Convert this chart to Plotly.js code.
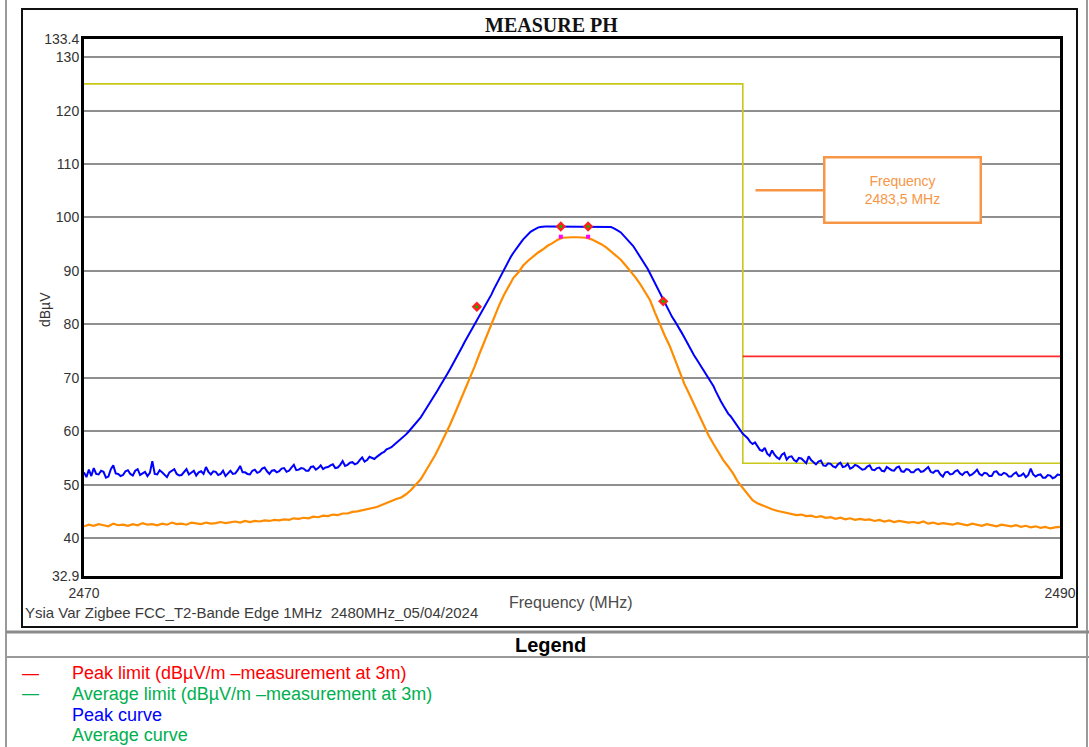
<!DOCTYPE html>
<html>
<head>
<meta charset="utf-8">
<script src="https://cdn.plot.ly/plotly-3.0.1.min.js"></script>
<style>
html,body{margin:0;padding:0;background:#fff;}
#chart{width:1089px;height:747px;}
</style>
</head>
<body>
<div id="chart"></div>
<script>
// ---------- DATA ----------
const peakFreqStart = 2470.0;
const peakFreqStep = 0.05; // MHz sampling of the peak trace
const avgFreqStart = 2470.0;
const avgFreqStep = 0.1;   // MHz sampling of the average trace

const peakCurve = [
  52.3, 51.4, 52.8, 51.6, 53.1, 52.0, 51.9, 52.6, 52.4, 51.3, 51.5, 52.9, 53.6, 52.1, 52.0, 51.6, 51.8, 52.5, 52.7, 52.0,
  51.7, 52.6, 52.9, 51.8, 52.1, 52.4, 51.6, 52.2, 54.4, 52.0, 51.9, 52.7, 52.3, 51.8, 51.4, 52.3, 52.6, 52.9, 52.0, 51.7,
  51.8, 52.4, 52.9, 51.9, 52.2, 52.6, 51.7, 52.3, 52.5, 52.0, 53.3, 52.4, 51.9, 52.5, 52.4, 51.8, 52.0, 52.6, 51.6, 52.2,
  52.6, 52.0, 52.1, 52.7, 53.5, 52.3, 52.3, 52.0, 51.9, 52.6, 52.8, 52.2, 52.4, 53.0, 53.2, 52.5, 52.0, 52.6, 52.7, 52.3,
  52.5, 53.0, 53.1, 52.4, 52.6, 53.2, 53.7, 52.7, 52.8, 53.1, 53.0, 52.6, 52.6, 53.3, 53.4, 52.8, 53.1, 53.6, 52.9, 53.2,
  53.3, 53.6, 53.8, 53.1, 53.2, 53.7, 54.4, 53.5, 53.7, 54.1, 54.2, 53.8, 54.0, 54.6, 55.1, 54.3, 54.6, 55.2, 55.0, 54.8,
  55.2, 55.6, 55.9, 56.1, 56.6, 56.8, 57.0, 57.4, 57.8, 58.2, 58.5, 58.9, 59.4, 59.9, 60.4, 60.9, 61.4, 62.0, 62.6, 63.3,
  64.0, 64.7, 65.4, 66.1, 66.9, 67.7, 68.5, 69.2, 70.0, 70.8, 71.6, 72.4, 73.3, 74.1, 75.0, 75.8, 76.7, 77.5, 78.4, 79.2,
  80.0, 80.8, 81.6, 82.3, 83.0, 83.8, 84.6, 85.6, 86.6, 87.5, 88.5, 89.4, 90.3, 91.2, 92.0, 92.7, 93.4, 94.1, 94.7, 95.3,
  95.9, 96.4, 96.9, 97.3, 97.6, 97.9, 98.1, 98.2, 98.3, 98.3, 98.3, 98.3, 98.3, 98.3, 98.3, 98.3, 98.3, 98.3, 98.3, 98.3,
  98.3, 98.3, 98.3, 98.3, 98.3, 98.3, 98.3, 98.3, 98.3, 98.3, 98.3, 98.3, 98.3, 98.3, 98.3, 98.3, 98.2, 98.0, 97.8, 97.5,
  97.2, 96.7, 96.2, 95.8, 95.3, 94.7, 94.0, 93.3, 92.6, 91.9, 91.2, 90.4, 89.5, 88.6, 87.6, 86.6, 85.6, 84.7, 83.8, 83.0,
  82.2, 81.4, 80.7, 80.0, 79.3, 78.4, 77.6, 76.7, 75.9, 75.0, 74.2, 73.5, 72.8, 72.1, 71.4, 70.7, 70.0, 69.2, 68.4, 67.4,
  66.4, 65.6, 64.8, 64.0, 63.3, 62.8, 62.1, 61.4, 60.9, 60.1, 59.5, 59.1, 58.7, 58.0, 57.6, 57.9, 57.1, 56.5, 56.3, 56.9,
  55.8, 55.4, 56.4, 55.6, 55.1, 54.8, 55.6, 55.9, 54.7, 55.2, 55.3, 54.6, 54.3, 55.0, 54.9, 54.4, 54.0, 55.3, 54.6, 54.2,
  53.8, 54.3, 54.5, 53.6, 53.5, 54.0, 53.9, 53.4, 53.2, 53.8, 54.1, 53.3, 53.4, 53.9, 53.0, 53.2, 53.7, 53.5, 53.1, 52.8,
  52.9, 53.4, 53.6, 52.8, 52.7, 53.1, 53.2, 52.6, 52.5, 53.3, 53.0, 52.7, 52.6, 53.2, 53.4, 52.5, 52.4, 52.9, 52.8, 52.3,
  52.3, 52.8, 52.9, 52.4, 52.5, 52.9, 53.3, 52.4, 52.2, 52.6, 52.6, 51.9, 51.5, 52.3, 52.4, 51.9, 52.0, 52.5, 52.7, 52.1,
  51.8, 52.3, 52.4, 51.7, 51.9, 52.3, 52.8, 52.0, 51.7, 52.2, 52.1, 51.6, 51.6, 52.4, 52.5, 51.9, 51.8, 52.2, 52.0, 51.5,
  51.5, 52.0, 52.3, 51.6, 51.7, 52.1, 51.4, 51.8, 53.0, 51.9, 51.5, 51.8, 51.9, 51.3, 51.3, 51.8, 51.7, 51.2, 51.4, 51.9,
  51.8
];

const averageCurve = [
  42.2, 42.5, 42.3, 42.6, 42.4, 42.2, 42.7, 42.4, 42.5, 42.3,
  42.6, 42.4, 42.8, 42.5, 42.6, 42.4, 42.7, 42.5, 42.9, 42.6,
  42.7, 42.5, 42.9, 42.7, 42.6, 42.9, 42.7, 42.8, 43.0, 42.8,
  42.9, 43.1, 42.9, 43.2, 43.0, 43.2, 43.1, 43.3, 43.2, 43.4,
  43.3, 43.5, 43.4, 43.7, 43.6, 43.8, 43.7, 44.0, 43.9, 44.2,
  44.1, 44.4, 44.3, 44.6, 44.6, 44.9, 45.0, 45.2, 45.3, 45.5,
  45.8, 46.2, 46.6, 47.0, 47.3, 47.6, 48.2, 49.0, 50.0, 51.0,
  52.5, 54.0, 55.6, 57.4, 59.2, 61.2, 63.3, 65.4, 67.6, 69.8,
  72.0, 74.4, 76.7, 79.0, 81.3, 83.4, 85.4, 87.2, 88.7, 89.7,
  91.0, 91.9, 92.7, 93.4, 94.0, 94.7, 95.2, 95.8, 96.2, 96.3,
  96.3, 96.3, 96.3, 96.2, 95.9, 95.5, 95.0, 94.4, 93.6, 92.9,
  92.1, 91.0, 90.0, 88.8, 87.5, 86.1, 84.5, 82.2, 80.0, 77.9,
  76.0, 73.5, 71.1, 68.9, 67.0, 65.0, 63.0, 61.0, 59.2, 57.6,
  56.1, 54.6, 53.4, 52.1, 50.5, 49.3, 48.1, 47.1, 46.5, 46.1,
  45.8, 45.4, 45.1, 44.9, 44.7, 44.6, 44.3, 44.4, 44.1, 44.2,
  43.9, 44.1, 43.8, 43.9, 43.6, 43.8, 43.5, 43.7, 43.4, 43.6,
  43.4, 43.5, 43.2, 43.4, 43.1, 43.3, 43.0, 43.2, 43.1, 42.9,
  43.0, 42.8, 43.1, 42.7, 42.9, 42.6, 42.8, 42.7, 42.5, 42.8,
  42.6, 42.4, 42.7, 42.5, 42.3, 42.6, 42.4, 42.2, 42.5, 42.3,
  42.2, 42.4, 42.1, 42.3, 42.0, 42.2, 41.9, 42.1, 41.8, 42.0,
  42.1
];

const limitFreq = [2470, 2483.5, 2483.5, 2490];
const limitLevel = [125, 125, 54, 54];
const peakLimitFreq = [2483.5, 2490];
const peakLimitLevel = [74, 74];

const markerFreq = [2478.05, 2479.77, 2480.33, 2481.87];
const markerLevel = [83.3, 98.3, 98.3, 84.3];
const avgMarkerFreq = [2479.77, 2480.33];
const avgMarkerLevel = [96.4, 96.4];

const yTickVals = [32.9, 40, 50, 60, 70, 80, 90, 100, 110, 120, 130, 133.4];
const yTickText = ["32.9", "40", "50", "60", "70", "80", "90", "100", "110", "120", "130", "133.4"];
const xTickVals = [2470, 2490];
const xTickText = ["2470", "2490"];

const legendItems = ["Peak limit (dBµV/m –measurement at 3m)", "Average limit (dBµV/m –measurement at 3m)", "Peak curve", "Average curve"];
const legendColors = ["#ff0000", "#00b050", "#0000ff", "#00b050"];
const legendDash = [true, true, false, false];

// ---------- BUILD ----------
const peakFreqs = peakCurve.map((_, i) => +(peakFreqStart + i * peakFreqStep).toFixed(3));
const avgFreqs = averageCurve.map((_, i) => +(avgFreqStart + i * avgFreqStep).toFixed(3));

const L = 84, R = 1060, T = 39, B = 576, W = 1089, H = 747;
const px = x => (x - L) / (R - L);
const py = y => (B - y) / (B - T);

const sans = "Liberation Sans, Arial, sans-serif";

const traces = [
  {x: limitFreq, y: limitLevel, mode: "lines", line: {color: "#c8c81a", width: 1.6}, hoverinfo: "skip"},
  {x: peakLimitFreq, y: peakLimitLevel, mode: "lines", line: {color: "#ff2a2a", width: 1.6}, hoverinfo: "skip"},
  {x: avgFreqs, y: averageCurve, mode: "lines", line: {color: "#ff8c00", width: 2.2}},
  {x: peakFreqs, y: peakCurve, mode: "lines", line: {color: "#0000ff", width: 2}},
  {x: avgMarkerFreq, y: avgMarkerLevel, mode: "markers", marker: {symbol: "square", size: 4, color: "#ff00ff"}},
  {x: markerFreq, y: markerLevel, mode: "markers", marker: {symbol: "diamond", size: 8, color: "#ff2020", line: {width: 0}}},
  {x: markerFreq, y: markerLevel, mode: "markers", marker: {symbol: "circle", size: 3, color: "#00c000"}}
];

const txt = (text, x, y, size, color, extra) => Object.assign({text: text, x: px(x), y: py(y),
  xref: "paper", yref: "paper", xanchor: "center", yanchor: "middle", showarrow: false,
  font: {family: sans, size: size, color: color}}, extra || {});

const annotations = [
  txt("<b>MEASURE PH</b>", 551, 25, 20, "#111", {font: {family: "Liberation Serif, Times New Roman, serif", size: 20, color: "#111"}}),
  txt("dBµV", 45, 310, 14, "#333", {textangle: -90}),
  txt("Frequency (MHz)", 571, 602, 16, "#4a4a4a"),
  txt("Ysia Var Zigbee FCC_T2-Bande Edge 1MHz  2480MHz_05/04/2024", 23, 612, 15, "#3a3a3a", {xanchor: "left"}),
  txt("<b>Legend</b>", 550, 645, 20, "#000"),
  {text: "Frequency<br>2483,5 MHz", x: 2483.76, y: 105.1, xref: "x", yref: "y", showarrow: true,
   arrowhead: 0, arrowwidth: 2.5, arrowcolor: "#f79646", ax: 147, ay: 0, axref: "pixel", ayref: "pixel",
   width: 154, height: 63, bordercolor: "#f79646", borderwidth: 2.5, borderpad: 0, bgcolor: "#fff",
   font: {family: sans, size: 14, color: "#f79646"}}
];
const rowY = [673, 694, 715, 735];
legendItems.forEach((t, i) => {
  if (legendDash[i]) annotations.push(txt("—", 20, rowY[i], 17, legendColors[i], {xanchor: "left"}));
  annotations.push(txt(t, 70, rowY[i], 18, legendColors[i], {xanchor: "left"}));
});

const line = (x0, y0, x1, y1, color, width) => ({type: "line", xref: "paper", yref: "paper",
  x0: px(x0), y0: py(y0), x1: px(x1), y1: py(y1), line: {color: color, width: width}, layer: "above"});

const shapes = [
  line(6, 0, 6, 747, "#9a9a9a", 2),
  line(1087, 0, 1087, 747, "#9a9a9a", 2),
  {type: "rect", xref: "paper", yref: "paper", x0: px(22), y0: py(9), x1: px(1077), y1: py(627),
   line: {color: "#111", width: 2}, layer: "below"},
  line(6, 632, 1089, 632, "#8a8a8a", 3),
  line(6, 657, 1089, 657, "#9a9a9a", 2)
];

const layout = {
  width: W, height: H,
  margin: {l: L, r: W - R, t: T, b: H - B, pad: 0},
  paper_bgcolor: "#fff", plot_bgcolor: "#fff",
  showlegend: false,
  xaxis: {range: [2470, 2490], tickvals: xTickVals, ticktext: xTickText, showgrid: false, zeroline: false,
    showline: true, mirror: true, linecolor: "#000", linewidth: 3, ticks: "", ticklabelstandoff: 2,
    tickfont: {family: sans, size: 14, color: "#333"}},
  yaxis: {range: [32.9, 133.4], tickvals: yTickVals, ticktext: yTickText, showgrid: true, gridcolor: "#8f8f8f",
    gridwidth: 2, zeroline: false, showline: true, mirror: true, linecolor: "#000", linewidth: 3, ticks: "",
    ticklabelstandoff: -1, tickfont: {family: sans, size: 14, color: "#333"}},
  annotations: annotations,
  shapes: shapes
};

Plotly.newPlot("chart", traces, layout, {staticPlot: true, displayModeBar: false});
</script>
</body>
</html>
